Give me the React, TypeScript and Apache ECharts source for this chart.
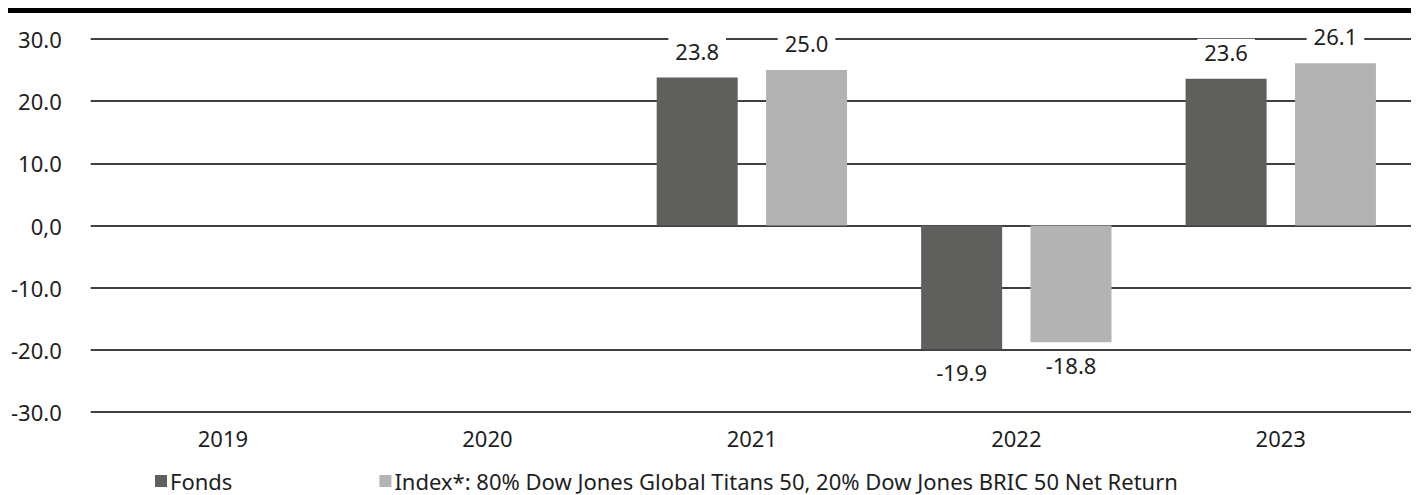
import React, { useEffect, useRef } from "react";
import * as echarts from "echarts";

const categories = ["2019", "2020", "2021", "2022", "2023"];
const fondsValues = [null, null, 23.8, -19.9, 23.6];
const indexValues = [null, null, 25.0, -18.8, 26.1];
const seriesNames = ["Fonds", "Index*: 80% Dow Jones Global Titans 50, 20% Dow Jones BRIC 50 Net Return"];
const seriesColors = ["#5f5f5d", "#b3b3b3"];

const FONT = "'Noto Sans', 'Open Sans', sans-serif";
const FS = 22;

export default function App() {
  const ref = useRef<HTMLDivElement>(null);
  useEffect(() => {
    const chart = echarts.init(ref.current!, null, { renderer: "svg" });
    const makeSeries = (name: string, values: (number | null)[], color: string) => ({
      name,
      type: "bar",
      barWidth: 81,
      barGap: "35%",
      itemStyle: { color },
      z: 3,
      label: {
        show: true,
        fontSize: FS,
        fontFamily: FONT,
        color: "#1e1e1e",
        backgroundColor: "#fff",
        padding: [2, 7],
        formatter: (p: any) => Number(p.value).toFixed(1),
      },
      data: values.map((v) =>
        v === null
          ? null
          : { value: v, label: { position: v < 0 ? "bottom" : "top", distance: v < 0 ? 10 : 14 } }
      ),
    });
    chart.setOption({
      animation: false,
      textStyle: { fontFamily: FONT },
      graphic: [
        { type: "rect", left: 0, top: 0, shape: { width: 1407, height: 5 }, style: { fill: "#000" } },
      ],
      grid: { left: 79, right: 6, top: 31, bottom: 83, containLabel: false },
      legend: {
        left: 147,
        top: 462,
        padding: 0,
        itemWidth: 12,
        itemHeight: 12,
        itemGap: 147,
        icon: "rect",
        textStyle: { fontSize: FS, color: "#1e1e1e", fontFamily: FONT, padding: [0, 0, 0, -2] },
        data: seriesNames,
      },
      xAxis: {
        type: "category",
        data: categories,
        axisLine: { show: false },
        axisTick: { show: false },
        axisLabel: { fontSize: FS, color: "#1e1e1e", fontFamily: FONT, margin: 15 },
      },
      yAxis: {
        type: "value",
        min: -30,
        max: 30,
        interval: 10,
        axisLine: { show: false },
        axisTick: { show: false },
        splitLine: { lineStyle: { color: "#000", width: 1.5 } },
        axisLabel: {
          fontSize: FS,
          color: "#1e1e1e",
          fontFamily: FONT,
          margin: 29,
          formatter: (v: number) => (v === 0 ? "0,0" : v.toFixed(1)),
        },
      },
      series: [
        makeSeries(seriesNames[0], fondsValues, seriesColors[0]),
        makeSeries(seriesNames[1], indexValues, seriesColors[1]),
      ],
    });
    return () => chart.dispose();
  }, []);
  return <div ref={ref} style={{ width: 1411, height: 487 }} />;
}
